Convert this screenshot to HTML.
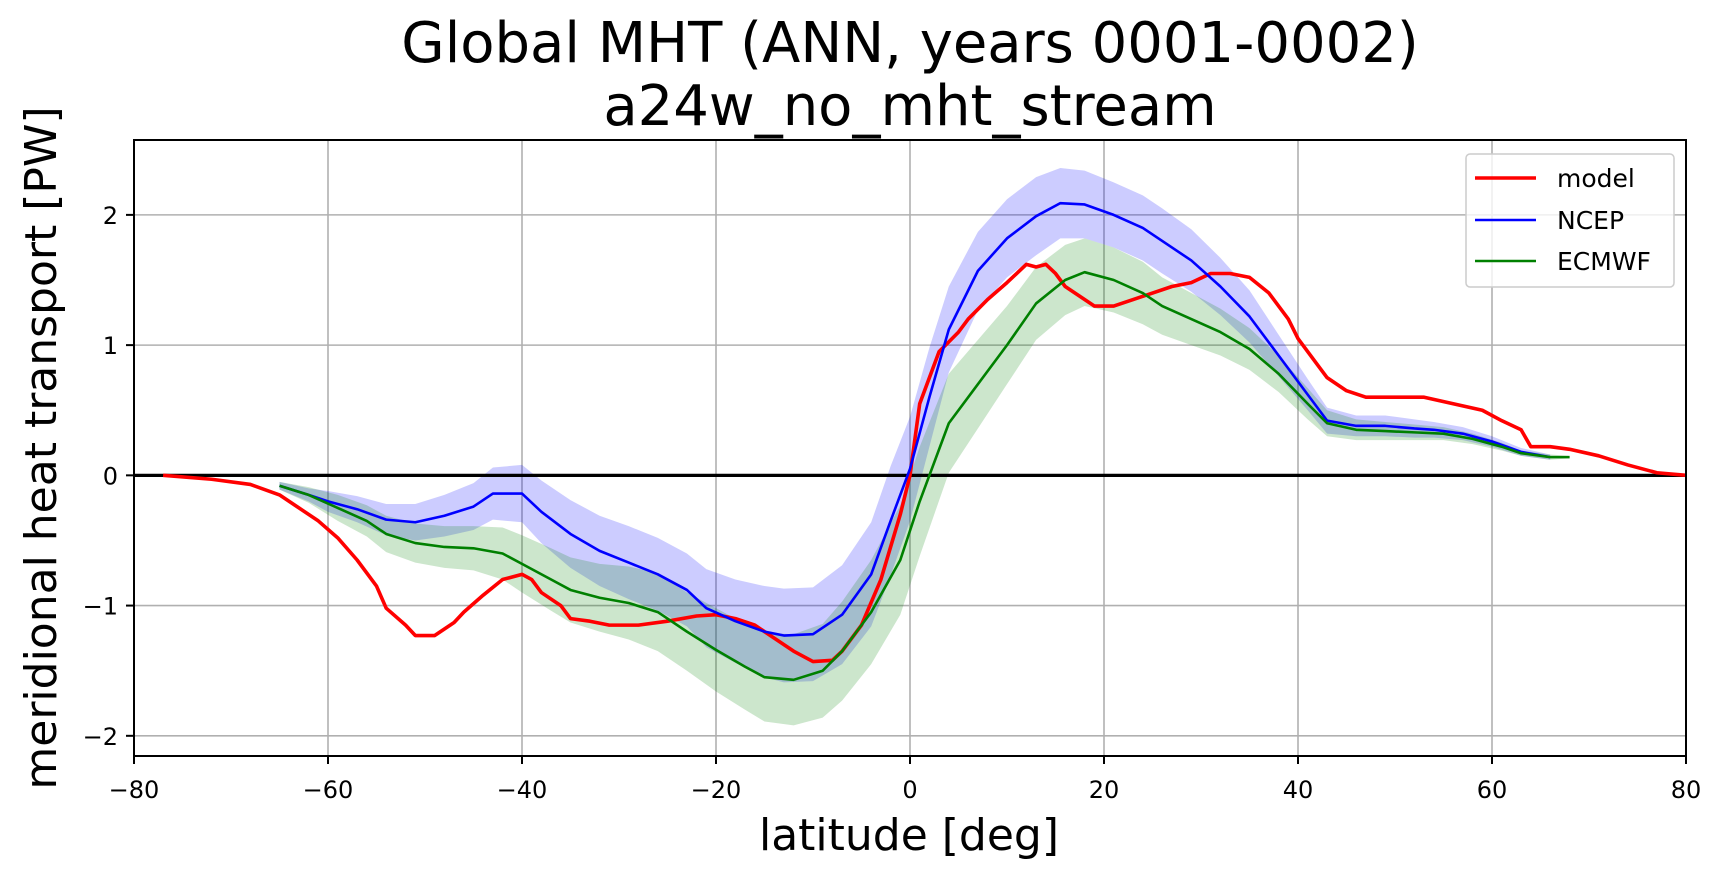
<!DOCTYPE html>
<html><head><meta charset="utf-8"><style>
html,body{margin:0;padding:0;background:#fff}
svg{display:block;font-family:"DejaVu Sans","Liberation Sans",sans-serif}
</style></head><body>
<svg id="chart" width="1722" height="878" viewBox="0 0 1722 878" xmlns="http://www.w3.org/2000/svg">
<text x="910" y="62" font-size="56" text-anchor="middle">Global MHT (ANN, years 0001-0002)</text>
<text x="910" y="125" font-size="56" text-anchor="middle">a24w_no_mht_stream</text>
<g id="grid"></g><g id="bands"></g><g id="lines"></g><g id="axes"></g>
<text x="909" y="850" font-size="44" text-anchor="middle">latitude [deg]</text>
<text transform="translate(56,448) rotate(-90)" font-size="44" text-anchor="middle">meridional heat transport [PW]</text>
<g>
<rect x="1466" y="154" width="208" height="133" rx="4" fill="#fff" fill-opacity="0.8" stroke="#ccc" stroke-width="1.5"/>
<line x1="1475" y1="178" x2="1536" y2="178" stroke="#ff0000" stroke-width="3.5"/>
<text x="1557" y="187" font-size="25">model</text>
<line x1="1475" y1="220" x2="1536" y2="220" stroke="#0000ff" stroke-width="2.6"/>
<text x="1557" y="229" font-size="25">NCEP</text>
<line x1="1475" y1="261" x2="1536" y2="261" stroke="#008000" stroke-width="2.6"/>
<text x="1557" y="270" font-size="25">ECMWF</text>
</g>
</svg>
<script>
const xTicks=[-80,-60,-40,-20,0,20,40,60,80];
const yTicks=[-2,-1,0,1,2];
const modelLat=[-77,-72,-68,-65,-63,-61,-59,-57,-55,-54,-52,-51,-49,-47,-46,-44,-42,-40,-39,-38,-36,-35,-33,-31,-28,-25,-22,-20,-18,-16,-14,-12,-10,-8,-7,-5,-3,-1,0,1,3,5,6,8,10,12,13,14,15,16,18,19,21,23,25,27,29,31,33,35,37,39,40,42,43,45,47,50,53,56,59,61,63,64,66,68,71,74,77,80];
const modelVal=[0,-0.03,-0.07,-0.15,-0.25,-0.35,-0.48,-0.65,-0.85,-1.02,-1.15,-1.23,-1.23,-1.13,-1.05,-0.92,-0.8,-0.76,-0.8,-0.9,-1.0,-1.1,-1.12,-1.15,-1.15,-1.12,-1.08,-1.07,-1.1,-1.15,-1.25,-1.35,-1.43,-1.42,-1.35,-1.15,-0.8,-0.3,0,0.55,0.95,1.1,1.2,1.35,1.48,1.62,1.6,1.62,1.55,1.45,1.35,1.3,1.3,1.35,1.4,1.45,1.48,1.55,1.55,1.52,1.4,1.2,1.05,0.85,0.75,0.65,0.6,0.6,0.6,0.55,0.5,0.42,0.35,0.22,0.22,0.2,0.15,0.08,0.02,0];
const ncepLat=[-65,-62,-60,-57,-54,-51,-48,-45,-43,-40,-38,-35,-32,-29,-26,-23,-21,-18,-15,-13,-10,-7,-4,-2,0,2,4,7,10,13,15.5,18,21,24,26,29,32,35,38,41,43,46,49,52,54,57,60,63,66];
const ncepVal=[-0.08,-0.15,-0.2,-0.26,-0.34,-0.36,-0.31,-0.24,-0.14,-0.14,-0.28,-0.45,-0.58,-0.67,-0.76,-0.88,-1.02,-1.12,-1.2,-1.23,-1.22,-1.07,-0.76,-0.35,0.05,0.6,1.12,1.57,1.82,1.99,2.09,2.08,2.0,1.9,1.8,1.65,1.45,1.22,0.92,0.62,0.42,0.38,0.38,0.36,0.35,0.32,0.26,0.18,0.14];
const ncepSpread=[0.03,0.05,0.08,0.1,0.12,0.14,0.16,0.18,0.2,0.22,0.24,0.26,0.27,0.28,0.28,0.28,0.3,0.32,0.35,0.36,0.36,0.38,0.4,0.42,0.4,0.38,0.33,0.3,0.3,0.3,0.27,0.26,0.25,0.25,0.25,0.24,0.22,0.2,0.16,0.12,0.1,0.08,0.08,0.07,0.06,0.05,0.04,0.03,0.02];
const ecmwfLat=[-65,-62,-59,-56,-54,-51,-48,-45,-42,-40,-37,-35,-32,-29,-26,-23,-20,-17,-15,-12,-9,-7,-4,-1,1,4,7,10,13,16,18,21,24,26,29,32,35,38,41,43,46,49,52,55,58,61,63,66,68];
const ecmwfVal=[-0.08,-0.15,-0.25,-0.35,-0.45,-0.52,-0.55,-0.56,-0.6,-0.68,-0.8,-0.88,-0.94,-0.98,-1.05,-1.2,-1.34,-1.47,-1.55,-1.57,-1.5,-1.35,-1.05,-0.65,-0.2,0.4,0.7,1.0,1.32,1.5,1.56,1.5,1.4,1.3,1.2,1.1,0.97,0.78,0.55,0.4,0.35,0.34,0.33,0.32,0.28,0.22,0.17,0.14,0.14];
const ecmwfSpread=[0.03,0.06,0.1,0.12,0.14,0.15,0.16,0.17,0.2,0.22,0.24,0.25,0.26,0.28,0.3,0.3,0.32,0.33,0.34,0.35,0.36,0.38,0.4,0.42,0.42,0.38,0.34,0.3,0.28,0.27,0.26,0.25,0.24,0.22,0.2,0.18,0.16,0.14,0.12,0.1,0.08,0.07,0.06,0.05,0.04,0.03,0.02,0.02,0.01];

const L=134,R=1686,T=140,B=756,XMIN=-80,XMAX=80,YMIN=-2.155,YMAX=2.575;
const xs=v=>L+(v-XMIN)/(XMAX-XMIN)*(R-L);
const ys=v=>B-(v-YMIN)/(YMAX-YMIN)*(B-T);
const NS='http://www.w3.org/2000/svg';
function mk(tag,parent,attrs){const e=document.createElementNS(NS,tag);for(const k in attrs)e.setAttribute(k,attrs[k]);parent.appendChild(e);return e;}
const grid=document.getElementById('grid'),axes=document.getElementById('axes'),bands=document.getElementById('bands'),lines=document.getElementById('lines');
xTicks.forEach(t=>{
  const g=mk('line',grid,{x1:xs(t),x2:xs(t),y1:T,y2:B,stroke:'#b0b0b0','stroke-width':1.6});
  
  
  const tk=mk('line',axes,{x1:xs(t),x2:xs(t),y1:B,y2:B+8,stroke:'#000','stroke-width':2});
  
  
  const tx=mk('text',axes,{x:xs(t),y:B+42,'font-size':24,'text-anchor':'middle'});
  tx.textContent=(t<0?'\u2212'+(-t):String(t));
  
  
});
yTicks.forEach(t=>{
  const g=mk('line',grid,{x1:L,x2:R,y1:ys(t),y2:ys(t),stroke:'#b0b0b0','stroke-width':1.6});
  
  
  const tk=mk('line',axes,{x1:L-8,x2:L,y1:ys(t),y2:ys(t),stroke:'#000','stroke-width':2});
  
  
  const tx=mk('text',axes,{x:L-16,y:ys(t)+9,'font-size':24,'text-anchor':'end'});
  tx.textContent=(t<0?'\u2212'+(-t):String(t));
  
  
});
function band(lat,val,sp,color,name){
  let d='';
  lat.forEach((x,i)=>{d+=(i?'L':'M')+xs(x)+','+ys(val[i]+sp[i]);});
  for(let i=lat.length-1;i>=0;i--)d+='L'+xs(lat[i])+','+ys(val[i]-sp[i]);
  const p=mk('path',bands,{d:d+'Z',fill:color,'fill-opacity':0.2,stroke:'none'});
  
  
}
band(ncepLat,ncepVal,ncepSpread,'#0000ff','ncep-band');
band(ecmwfLat,ecmwfVal,ecmwfSpread,'#008000','ecmwf-band');
function line(lat,val,color,w,name){
  const pts=lat.map((x,i)=>xs(x)+','+ys(val[i])).join(' ');
  const p=mk('polyline',lines,{points:pts,fill:'none',stroke:color,'stroke-width':w,'stroke-linejoin':'round'});
  
  
}
const zl=mk('line',lines,{x1:L,x2:R,y1:ys(0),y2:ys(0),stroke:'#000','stroke-width':3.2});


line(modelLat,modelVal,'#ff0000',3.6,'model-line');
line(ncepLat,ncepVal,'#0000ff',2.6,'ncep-line');
line(ecmwfLat,ecmwfVal,'#008000',2.6,'ecmwf-line');
const fr=mk('rect',axes,{x:L,y:T,width:R-L,height:B-T,fill:'none',stroke:'#000','stroke-width':2});


</script>
</body></html>
